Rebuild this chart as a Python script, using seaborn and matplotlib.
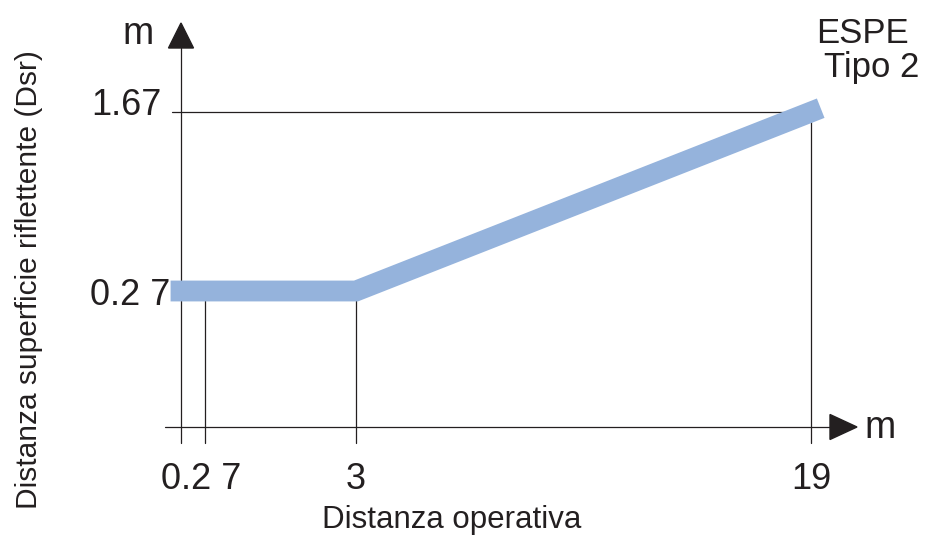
import numpy as np
import pandas as pd
import matplotlib.pyplot as plt
import matplotlib.transforms as mtransforms
from matplotlib.patches import Polygon
import seaborn as sns

sns.set_style('white')
plt.rcParams['font.family'] = ['Liberation Sans', 'DejaVu Sans']

# Data (m)
dist_operativa = [0, 3, 19]
dist_dsr = [0.27, 0.27, 1.67]
x_ticks = [0.27, 3, 19]
x_tick_labels = ['0.2 7', '3', '19']
y_ticks = [0.27, 1.67]
y_tick_labels = ['0.2 7', '1.67']

df = pd.DataFrame({'operativa': dist_operativa, 'dsr': dist_dsr})

# The drawing is schematic, not to scale: piecewise-linear value -> pixel scales
x_val = [-10, 0, 0.27, 3, 19, 30]
x_pix = [-103, 181, 205, 356, 811, 1123]
y_val = [-1, 0, 0.27, 1.67, 3]
y_pix = [-18, 110, 246, 425, 595]


def fx(v):
    return np.interp(v, x_val, x_pix)


def ix(p):
    return np.interp(p, x_pix, x_val)


def fy(v):
    return np.interp(v, y_val, y_pix)


def iy(p):
    return np.interp(p, y_pix, y_val)


W, H = 931, 537
fig = plt.figure(figsize=(W / 100, H / 100), dpi=100)
ax = fig.add_axes([0, 0, 1, 1])
ax.set_xscale('function', functions=(fx, ix))
ax.set_yscale('function', functions=(fy, iy))
ax.set_xlim(ix(0), ix(W))
ax.set_ylim(iy(0), iy(H))
ax.axis('off')

# pixel transform (origin bottom-left)
pxt = mtransforms.Affine2D().scale(1 / W, 1 / H) + fig.transFigure

ink = '#231f20'
lw = 0.9
bottom = iy(H - 443)

# axes lines
ax.plot([ix(165), ix(830)], [0, 0], color=ink, lw=lw)
ax.plot([0, 0], [bottom, iy(H - 48)], color=ink, lw=lw)

# guide lines
for xv, yv in zip(x_ticks, [0.27, 0.27, 1.67]):
    ax.plot([xv, xv], [bottom, yv], color=ink, lw=lw)
ax.plot([ix(172), 19], [1.67, 1.67], color=ink, lw=lw)

# arrow heads
fig.add_artist(Polygon([[830, 122.5], [830, 97.5], [857, 110]], closed=True,
                       color=ink, transform=pxt))
fig.add_artist(Polygon([[168.5, 489], [193.5, 489], [181, 514]], closed=True,
                       color=ink, transform=pxt))

# ESPE curve
sns.lineplot(data=df, x='operativa', y='dsr', color='#95b3dc', linewidth=15,
             solid_capstyle='projecting', solid_joinstyle='miter', ax=ax,
             zorder=5)

# tick labels
num_fs = 26
for xv, lab in zip(x_ticks, x_tick_labels):
    cx = fx(xv)
    if lab == '0.2 7':
        cx = 201
    ax.annotate(lab, xy=(cx, H - 489), xycoords=pxt, ha='center',
                va='baseline', fontsize=num_fs, color=ink)
ax.annotate(y_tick_labels[0], xy=(170, H - 305), xycoords=pxt, ha='right',
            va='baseline', fontsize=num_fs, color=ink)
ax.annotate(y_tick_labels[1], xy=(162, H - 115), xycoords=pxt, ha='right',
            va='baseline', fontsize=num_fs, color=ink)

# units
ax.annotate('m', xy=(122, H - 44), xycoords=pxt, ha='left', va='baseline',
            fontsize=27, color=ink)
ax.annotate('m', xy=(864, H - 438), xycoords=pxt, ha='left', va='baseline',
            fontsize=27, color=ink)

# series name
ax.annotate('ESPE', xy=(862, H - 43), xycoords=pxt, ha='center',
            va='baseline', fontsize=25, color=ink)
ax.annotate('Tipo 2', xy=(872, H - 77), xycoords=pxt, ha='center',
            va='baseline', fontsize=25, color=ink)

# axis titles
ax.annotate('Distanza operativa', xy=(452, H - 528), xycoords=pxt,
            ha='center', va='baseline', fontsize=22.5, color=ink)
ax.annotate('Distanza superficie riflettente (Dsr)', xy=(37, H - 280),
            xycoords=pxt, ha='center', va='baseline', rotation=90,
            rotation_mode='anchor', fontsize=21.5, color=ink)

plt.savefig('out.png', dpi=100)
plt.close()
